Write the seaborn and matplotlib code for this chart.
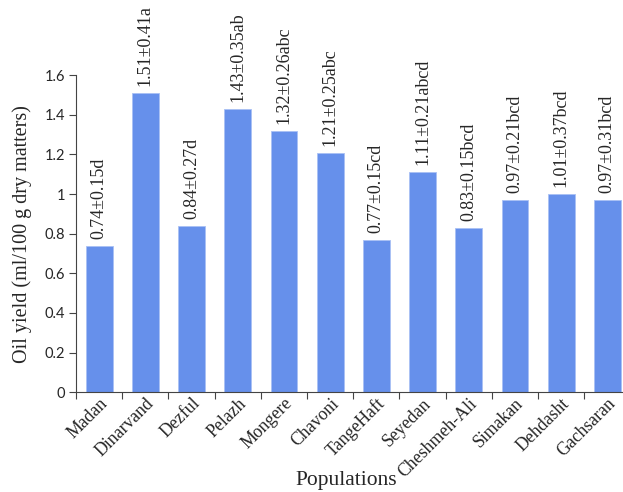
import matplotlib
matplotlib.use("Agg")
import matplotlib.pyplot as plt
import seaborn as sns
import pandas as pd
import numpy as np

populations = ["Madan", "Dinarvand", "Dezful", "Pelazh", "Mongere", "Chavoni",
               "TangeHaft", "Seyedan", "Cheshmeh-Ali", "Simakan", "Dehdasht", "Gachsaran"]
yields = [0.74, 1.51, 0.84, 1.43, 1.32, 1.21, 0.77, 1.11, 0.83, 0.97, 1.00, 0.97]
labels = ["0.74±0.15d", "1.51±0.41a", "0.84±0.27d", "1.43±0.35ab", "1.32±0.26abc",
          "1.21±0.25abc", "0.77±0.15cd", "1.11±0.21abcd", "0.83±0.15bcd",
          "0.97±0.21bcd", "1.01±0.37bcd", "0.97±0.31bcd"]
yticks = [0, 0.2, 0.4, 0.6, 0.8, 1, 1.2, 1.4, 1.6]
ytick_labels = ["0", "0.2", "0.4", "0.6", "0.8", "1", "1.2", "1.4", "1.6"]

sns.set_style("ticks")
serif = ["Liberation Serif", "DejaVu Serif"]

df = pd.DataFrame({"Population": populations, "Yield": yields})

fig = plt.figure(figsize=(6.23, 4.92), dpi=100)
ax = fig.add_axes([0.122, 0.203, 0.89, 0.644])
sns.barplot(data=df, x="Population", y="Yield", color="#6690EB", saturation=1,
            width=0.58, edgecolor="#a9c0f4", linewidth=0.6, ax=ax)

ax.set_xlim(-0.5, len(populations) - 0.5)
ax.set_ylim(0, 1.6)
ax.set_yticks(yticks)
ax.set_yticklabels(ytick_labels, fontfamily=["Lato", "DejaVu Sans"], fontsize=10.5)

ax.set_xticks(range(len(populations)))
ax.set_xticklabels(populations, rotation=45, ha="right", rotation_mode="anchor",
                   fontfamily=serif, fontsize=12.8)
ax.set_xticks(np.arange(-0.5, len(populations), 1), minor=True)
ax.tick_params(axis="x", which="major", length=0, pad=2)
ax.tick_params(axis="x", which="minor", length=5, width=0.8, color="#444444")
ax.tick_params(axis="y", length=5, width=0.8, color="#444444", pad=3)

for i, (v, lab) in enumerate(zip(yields, labels)):
    ax.annotate(lab, (i, v), xytext=(0, 5), textcoords="offset points",
                rotation=90, ha="center", va="bottom", fontfamily=serif, fontsize=13)

ax.set_ylabel("Oil yield (ml/100 g dry matters)", fontfamily=serif, fontsize=14.5)
ax.yaxis.set_label_coords(-0.079, 0.5)
ax.set_xlabel("Populations", fontfamily=serif, fontsize=15.5)
ax.xaxis.set_label_coords(0.487, -0.25)

sns.despine(ax=ax)
for s in ["left", "bottom"]:
    ax.spines[s].set_color("#444444")
    ax.spines[s].set_linewidth(0.8)

fig.savefig("out.png", dpi=100)
